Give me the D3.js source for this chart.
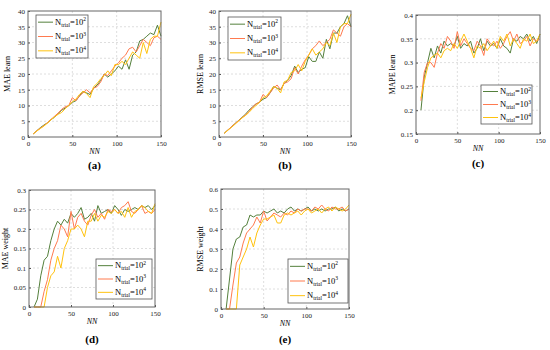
<!DOCTYPE html>
<html><head><meta charset="utf-8">
<script src="https://cdn.jsdelivr.net/npm/d3@7"></script>
<style>body{margin:0;background:#fff}svg{display:block}text{font-family:"Liberation Serif","DejaVu Serif",serif}</style>
</head><body>
<svg id="c" width="550" height="350"></svg>
<script>
// ---------- data ----------
const NN = [6,10,14,18,22,26,30,34,38,42,46,50,54,58,62,66,70,74,78,82,86,90,94,98,102,106,110,114,118,122,126,130,134,138,142,146,150];
const seriesNames = ["2","3","4"]; // exponents of N_trial = 10^k

const maeLearn2 = [1,2,3,3.8,4.5,5.5,6.3,7.5,8.5,9.2,10,11,11.5,13,14.5,14,13.5,15.5,16.5,18,20,19,20,21,22.5,21.5,24.5,21.5,26,27,30.5,31,32,33,32.5,35.5,32];
const maeLearn3 = [1,2,2.8,3.6,4.6,5.6,6.6,7.6,8.8,9.6,10,12.5,11.5,13,14,15,14,15.5,16,17.5,20,19.5,21,22.5,23.5,25,26,28,28.5,27,29,31,30,29,31.5,32,31];
const maeLearn4 = [1,1.9,2.7,3.5,4.4,5.5,6.4,7.2,7.8,9,10,11.2,12,13.5,14.5,13.8,12.5,16,17,18.5,19.5,21,19.5,23,23,24,23,25,27,26,25,30,26.5,31,32,32,36.5];

const rmseLearn2 = [1.2,2.2,3.2,4.2,5.2,6.2,7.2,8.5,9.5,10.5,11,12,12.5,14,16,15.5,15,17,18,19.5,22.5,20.5,21.5,22,25.5,24,24,27,25,31,28,33,33,35,36,38.5,35];
const rmseLearn3 = [1.2,2.2,3.2,4.2,5.1,6.1,7,8,9.5,10.5,11,13.5,12.5,14,15.5,16.5,15,17,17.5,18.5,22,20,22.5,24.5,26,28,29,30.5,29,30,31,34,33,32,35,36,35];
const rmseLearn4 = [1.2,2.1,3,4,5,6,6.8,7.8,9,10,11,12.5,13,14.5,16,15.5,14,17.5,18,20.5,21,23,21,24,26,28,26,27,28,30,29,33,30,35,36,36,39];

const mapeLearn2 = [0.2,0.27,0.3,0.33,0.31,0.335,0.32,0.345,0.335,0.34,0.335,0.355,0.33,0.34,0.335,0.345,0.32,0.33,0.35,0.325,0.345,0.335,0.34,0.33,0.35,0.335,0.33,0.32,0.35,0.345,0.355,0.35,0.36,0.345,0.355,0.34,0.36];
const mapeLearn3 = [0.22,0.28,0.3,0.3,0.29,0.32,0.34,0.33,0.355,0.345,0.33,0.365,0.335,0.35,0.34,0.33,0.325,0.345,0.335,0.315,0.35,0.34,0.335,0.345,0.33,0.34,0.355,0.365,0.345,0.36,0.34,0.345,0.355,0.335,0.35,0.345,0.35];
const mapeLearn4 = [0.225,0.26,0.29,0.31,0.315,0.32,0.31,0.325,0.33,0.325,0.34,0.33,0.345,0.36,0.345,0.33,0.31,0.335,0.33,0.34,0.325,0.335,0.345,0.33,0.355,0.345,0.36,0.335,0.35,0.34,0.33,0.35,0.345,0.36,0.34,0.345,0.36];

const maeWeight2 = [0,0.02,0.08,0.12,0.13,0.17,0.2,0.22,0.21,0.225,0.215,0.24,0.23,0.24,0.255,0.225,0.23,0.24,0.22,0.26,0.24,0.245,0.25,0.24,0.26,0.25,0.235,0.25,0.245,0.25,0.255,0.25,0.26,0.255,0.26,0.25,0.26];
const maeWeight3 = [0,0,0,0.04,0.07,0.12,0.15,0.17,0.21,0.2,0.18,0.245,0.2,0.23,0.24,0.22,0.21,0.235,0.25,0.23,0.24,0.225,0.25,0.245,0.25,0.24,0.255,0.26,0.27,0.245,0.24,0.25,0.26,0.24,0.245,0.24,0.25];
const maeWeight4 = [0,0,0,0,0.05,0.08,0.09,0.13,0.1,0.15,0.17,0.2,0.2,0.21,0.2,0.18,0.22,0.22,0.24,0.22,0.235,0.23,0.245,0.24,0.25,0.24,0.245,0.23,0.255,0.23,0.245,0.25,0.26,0.255,0.245,0.24,0.265];

const rmseWeight2 = [0,0.15,0.3,0.35,0.36,0.41,0.42,0.47,0.46,0.47,0.47,0.49,0.48,0.49,0.5,0.48,0.49,0.48,0.5,0.51,0.49,0.5,0.49,0.5,0.51,0.49,0.5,0.49,0.5,0.49,0.5,0.5,0.51,0.49,0.5,0.49,0.5];
const rmseWeight3 = [0,0,0.12,0.23,0.26,0.33,0.38,0.4,0.42,0.46,0.43,0.49,0.44,0.46,0.48,0.47,0.46,0.48,0.47,0.49,0.48,0.5,0.49,0.5,0.5,0.49,0.51,0.5,0.52,0.5,0.49,0.51,0.5,0.5,0.51,0.49,0.5];
const rmseWeight4 = [0,0,0,0,0.22,0.26,0.3,0.36,0.31,0.38,0.42,0.45,0.45,0.46,0.47,0.43,0.43,0.47,0.48,0.47,0.48,0.49,0.47,0.49,0.5,0.48,0.49,0.5,0.48,0.5,0.51,0.49,0.51,0.5,0.49,0.5,0.52];

const xTicks = [0,50,100,150];
const yTicksA = [0,5,10,15,20,25,30,35,40];
const yTicksC = [0.15,0.2,0.25,0.3,0.35,0.4];
const yTicksD = [0,0.05,0.1,0.15,0.2,0.25,0.3];
const yTicksE = [0,0.1,0.2,0.3,0.4,0.5,0.6];

// ---------- layout / style ----------
const colors = ["#54803c", "#ff7a4f", "#ffc20e"];
const panels = [
  {lab:"(a)", yl:"MAE learn",  s:[maeLearn2,maeLearn3,maeLearn4],   yt:yTicksA, box:[28,11,161,137], leg:[36,15,52,43], labY:169, ylo:18},
  {lab:"(b)", yl:"RMSE learn", s:[rmseLearn2,rmseLearn3,rmseLearn4], yt:yTicksA, box:[219,11,351,137], leg:[228,17,53,43], labY:169, ylo:16},
  {lab:"(c)", yl:"MAPE learn", s:[mapeLearn2,mapeLearn3,mapeLearn4], yt:yTicksC, box:[416,15,540,134], leg:[481,85,51,39], labY:167, ylo:21},
  {lab:"(d)", yl:"MAE weight", s:[maeWeight2,maeWeight3,maeWeight4], yt:yTicksD, box:[29,190,155,307], leg:[96,259,56,40], labY:343, ylo:21},
  {lab:"(e)", yl:"RMSE weight",s:[rmseWeight2,rmseWeight3,rmseWeight4], yt:yTicksE, box:[221,189,349,309], leg:[288,259,60,44], labY:343, ylo:18}
];
const FONT = "Liberation Serif, DejaVu Serif, serif";
const svg = d3.select("#c");
const fmt = d => String(+d.toFixed(2));

panels.forEach(p => {
  const [x0,y0,x1,y1] = p.box;
  const x = d3.scaleLinear().domain([0,150]).range([x0,x1]);
  const y = d3.scaleLinear().domain([p.yt[0], p.yt[p.yt.length-1]]).range([y1,y0]);
  const g = svg.append("g");
  // grid
  g.append("g").selectAll("line").data(xTicks.slice(1,-1)).join("line")
    .attr("x1",d=>x(d)).attr("x2",d=>x(d)).attr("y1",y0).attr("y2",y1)
    .attr("stroke","#d6d6d6").attr("stroke-width",0.8).attr("stroke-dasharray","2,2");
  g.append("g").selectAll("line").data(p.yt.slice(1,-1)).join("line")
    .attr("x1",x0).attr("x2",x1).attr("y1",d=>y(d)).attr("y2",d=>y(d))
    .attr("stroke","#d6d6d6").attr("stroke-width",0.8).attr("stroke-dasharray","2,2");
  // axes
  const ax = g.append("g").attr("transform",`translate(0,${y1})`)
    .call(d3.axisBottom(x).tickValues(xTicks).tickSize(-2).tickPadding(4).tickFormat(d3.format("d")));
  const ay = g.append("g").attr("transform",`translate(${x0},0)`)
    .call(d3.axisLeft(y).tickValues(p.yt).tickSize(-2).tickPadding(3).tickFormat(fmt));
  [ax,ay].forEach(a=>{
    a.attr("font-family",FONT);
    a.select(".domain").remove();
    a.selectAll("line").attr("stroke","#555");
    a.selectAll("text").attr("font-family",FONT).attr("font-size",7).attr("fill","#222");
  });
  // lines
  const line = d3.line().x((d,i)=>x(NN[i])).y(d=>y(d));
  p.s.forEach((arr,k)=>{
    g.append("path").datum(arr).attr("d",line).attr("fill","none")
      .attr("stroke",colors[k]).attr("stroke-width",1).attr("stroke-linejoin","round");
  });
  // frame
  g.append("rect").attr("x",x0).attr("y",y0).attr("width",x1-x0).attr("height",y1-y0)
    .attr("fill","none").attr("stroke","#666").attr("stroke-width",1);
  // labels
  g.append("text").attr("x",(x0+x1)/2).attr("y",y1+17).attr("text-anchor","middle")
    .attr("font-family",FONT).attr("font-size",8).attr("font-style","italic").text("NN");
  g.append("text").attr("transform",`translate(${x0-p.ylo},${(y0+y1)/2}) rotate(-90)`)
    .attr("font-family",FONT).attr("text-anchor","middle").attr("font-size",8).text(p.yl);
  g.append("text").attr("x",(x0+x1)/2).attr("y",p.labY).attr("text-anchor","middle")
    .attr("font-family",FONT).attr("font-size",11).attr("font-weight","bold").text(p.lab);
  // legend
  const [lx,ly,lw,lh] = p.leg;
  const lg = g.append("g");
  lg.append("rect").attr("x",lx).attr("y",ly).attr("width",lw).attr("height",lh)
    .attr("fill","#fff").attr("stroke","#555").attr("stroke-width",0.8);
  seriesNames.forEach((e,k)=>{
    const cy = ly + lh*(k+0.5)/3;
    lg.append("line").attr("x1",lx+2).attr("x2",lx+17).attr("y1",cy).attr("y2",cy)
      .attr("stroke",colors[k]).attr("stroke-width",1);
    const t = lg.append("text").attr("x",lx+19).attr("y",cy+2.5).attr("font-size",8.5).attr("font-family",FONT);
    t.append("tspan").text("N");
    t.append("tspan").attr("font-size",5.5).attr("dy",2).text("trial");
    t.append("tspan").attr("dy",-2).text("=10");
    t.append("tspan").attr("font-size",5.5).attr("dy",-3.5).text(e);
  });
});
</script>
</body></html>
